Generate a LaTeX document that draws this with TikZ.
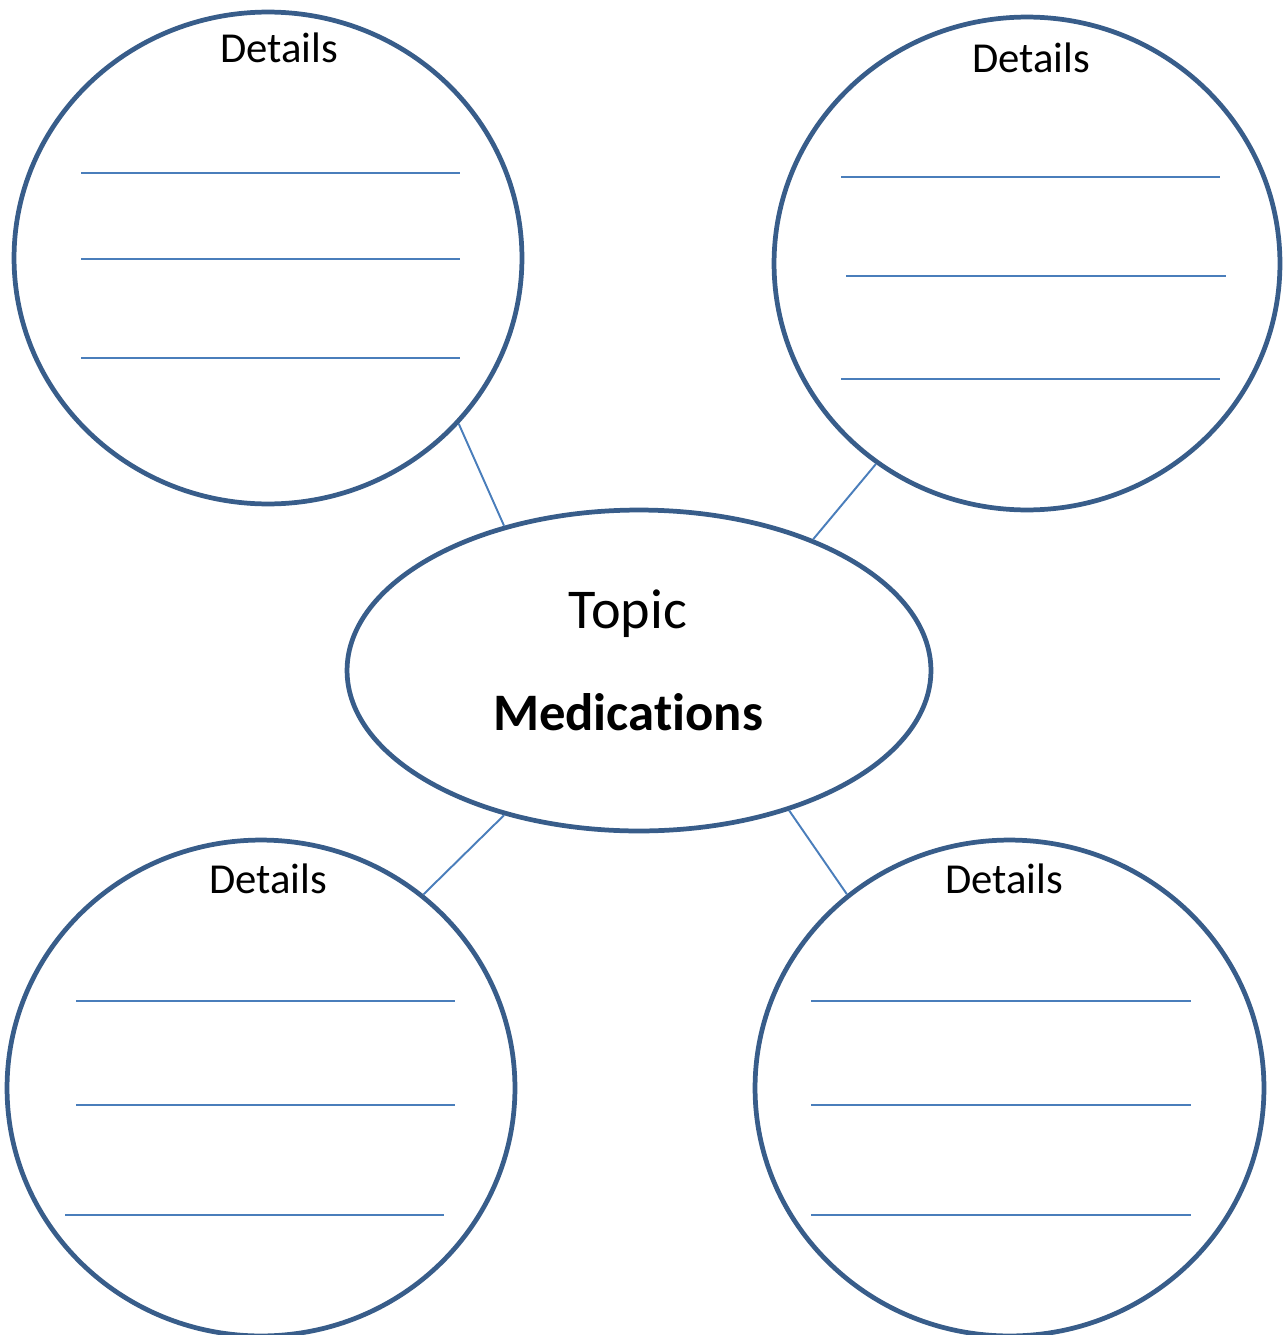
\documentclass[tikz,border=0pt]{standalone}
\usepackage{fontspec}
\setmainfont{Carlito}[Ligatures=NoCommon]
\usepackage{xcolor}
\usetikzlibrary{shapes.geometric}
\definecolor{ringblue}{HTML}{385D8A}
\definecolor{lineblue}{HTML}{4A7EBB}
\tikzset{
    bubble/.style={
        ellipse,
        draw=ringblue,
        line width=2.7pt,
        inner sep=0pt,
        minimum width=10.16cm,
        minimum height=9.84cm,
    },
    centre/.style={
        ellipse,
        draw=ringblue,
        line width=2.7pt,
        inner sep=0pt,
        minimum width=11.68cm,
        minimum height=6.42cm,
    },
    heading/.style={
        anchor=base,
        inner sep=0pt,
        font=\fontsize{24.3}{28}\selectfont,
    },
    link/.style={
        draw=lineblue,
        line width=1.1pt,
    },
    writeline/.style={
        draw=lineblue,
        line width=0.9pt,
    },
}

\begin{document}
\begin{tikzpicture}[x=0.02cm, y=-0.02cm]
      \useasboundingbox (0,0) rectangle (1285,1335);

      \node[centre] (mid) at (639,670.5) {};
      \node[bubble] (tl) at (268,258) {};
      \node[bubble, minimum width=10.12cm, minimum height=9.86cm] (tr) at (1027,263.5) {};
      \node[bubble, minimum height=9.92cm] (bl) at (261,1088) {};
      \node[bubble, minimum width=10.18cm, minimum height=9.92cm] (br) at (1009.5,1088) {};

      \node[heading] (dtl) at (279,63) {Details};
      \node[heading] (dtr) at (1031,72) {Details};
      \node[heading] (dbl) at (268,893) {Details};
      \node[heading] (dbr) at (1004,893) {Details};

      \node[heading, font=\fontsize{32}{36}\selectfont] (topic) at (628,628) {Topic};
      \node[heading, font=\fontsize{30}{34}\selectfont\bfseries] (med) at (628,730) {Medications};

      \draw[link] (tl.-41) -- (mid.133);
      \draw[link] (tr.-127) -- (mid.37);
      \draw[link] (bl.50) -- (mid.-133);
      \draw[link] (br.130) -- (mid.-43);

      \foreach \y in {173,259,358}
          \draw[writeline] (81,\y) -- (460,\y);
      \draw[writeline] (841,177) -- (1220,177);
      \draw[writeline] (846,276) -- (1226,276);
      \draw[writeline] (841,379) -- (1220,379);
      \draw[writeline] (76,1001) -- (455,1001);
      \draw[writeline] (76,1105) -- (455,1105);
      \draw[writeline] (65,1215) -- (444,1215);
      \foreach \y in {1001,1105,1215}
          \draw[writeline] (811,\y) -- (1191,\y);

    \end{tikzpicture}
\end{document}
